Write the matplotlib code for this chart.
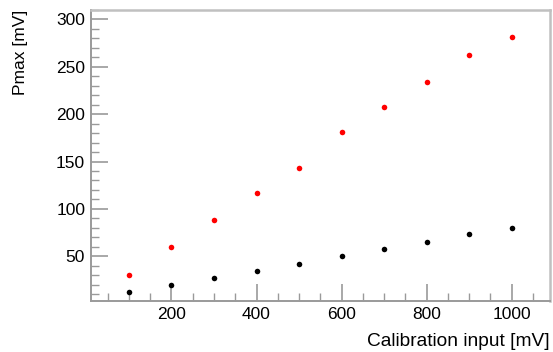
import numpy as np
import matplotlib.pyplot as plt
from matplotlib.ticker import MultipleLocator

plt.rcParams['font.family'] = ['Liberation Sans', 'DejaVu Sans']

# Calibration input (mV)
calib_input = [100, 200, 300, 400, 500, 600, 700, 800, 900, 1000]
# Pmax readings (mV)
pmax_red = [30.5, 59.5, 88.0, 116.5, 143.5, 180.9, 207.3, 233.7, 263.0, 281.8]
pmax_black = [11.8, 19.3, 26.7, 34.4, 41.5, 50.6, 58.0, 65.4, 73.2, 79.5]

fig = plt.figure(figsize=(5.53, 3.52), dpi=100)
ax = fig.add_axes([0.164, 0.144, 0.8306, 0.8276])

ax.plot(calib_input, pmax_black, 'o', color='black', markersize=4, markeredgewidth=0)
ax.plot(calib_input, pmax_red, 'o', color='red', markersize=4, markeredgewidth=0)

ax.set_xlim(10, 1090)
ax.set_ylim(2.4, 310)

ax.xaxis.set_major_locator(MultipleLocator(200))
ax.xaxis.set_minor_locator(MultipleLocator(50))
ax.yaxis.set_major_locator(MultipleLocator(50))
ax.yaxis.set_minor_locator(MultipleLocator(10))

frame_col = '#9a9a9a'
for side in ['left', 'bottom']:
    ax.spines[side].set_color(frame_col)
    ax.spines[side].set_linewidth(1.4)
for side in ['top', 'right']:
    ax.spines[side].set_color('#c0c0c0')
    ax.spines[side].set_linewidth(1.8)

ax.tick_params(which='major', direction='in', length=12, width=1.2,
               color=frame_col, labelsize=12.5, pad=4)
ax.tick_params(which='minor', direction='in', length=6, width=1.0,
               color=frame_col)
ax.tick_params(axis='y', which='both', left=True, right=False)
ax.tick_params(axis='x', which='both', bottom=True, top=False)

ax.set_xlabel('Calibration input [mV]', fontsize=13.8, loc='right', labelpad=8)
ax.set_ylabel('Pmax [mV]', fontsize=12.5, loc='top', labelpad=20)

fig.savefig('out.png', dpi=100)
